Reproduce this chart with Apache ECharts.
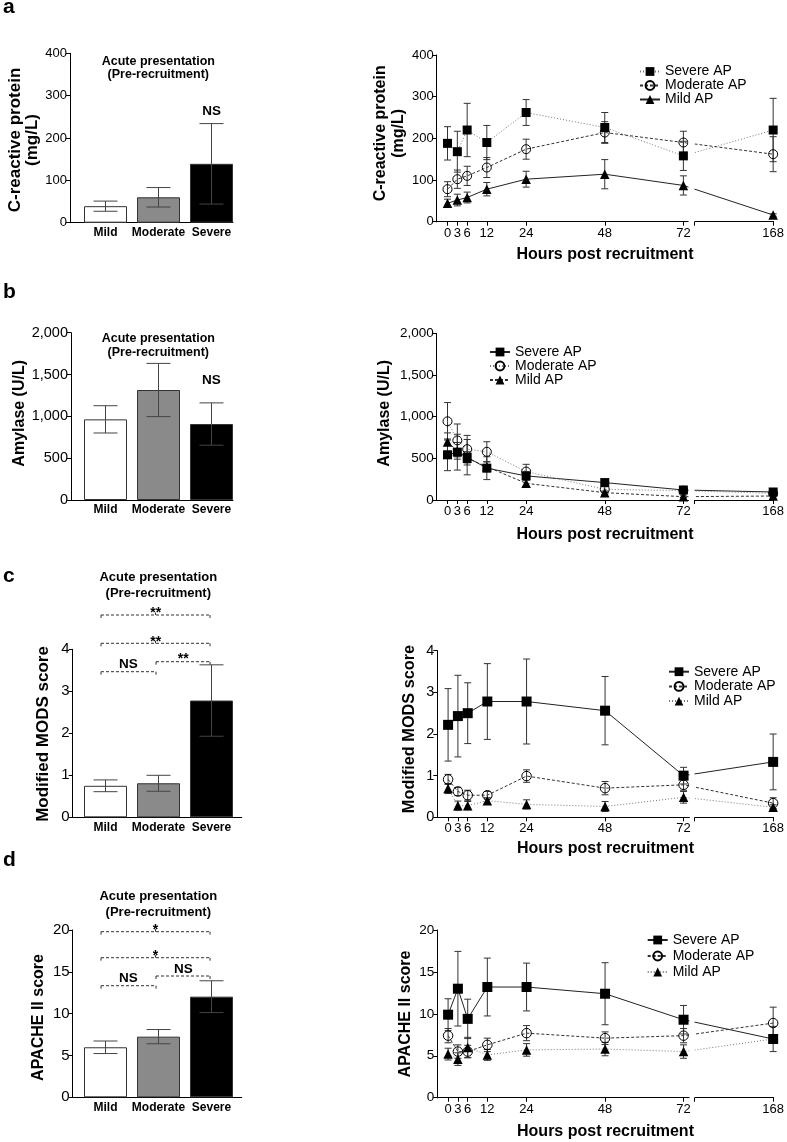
<!DOCTYPE html>
<html><head><meta charset="utf-8">
<script src="https://cdn.jsdelivr.net/npm/echarts@6/dist/echarts.min.js"></script>
<style>html,body{margin:0;padding:0;background:#fff}#c{width:787px;height:1142px}</style>
</head><body><div id="c"></div>
<script>
// ---------------- DATA ----------------
const groups = ['Mild', 'Moderate', 'Severe'];
const hours = [0, 3, 6, 12, 24, 48, 72, 168];
const hourTicks = [0, 3, 6, 12, 24, 48, 72, 168];
const apNames = ['Severe AP', 'Moderate AP', 'Mild AP'];

// a: C-reactive protein (mg/L)
const crpBarMean = [39, 60, 139];
const crpBarSem = [12, 23, 95];
const crpSevereMean = [188, 168, 220, 190, 262, 226, 158, 220];
const crpSevereSem = [40, 49, 64, 41, 31, 36, 35, 76];
const crpModerateMean = [78, 102, 110, 130, 174, 214, 190, 162];
const crpModerateSem = [18, 22, 23, 24, 24, 26, 27, 42];
const crpMildMean = [44, 52, 58, 78, 102, 114, 87, 16];
const crpMildSem = [10, 14, 13, 16, 19, 35, 23, 3];

// b: Amylase (U/L)
const amyBarMean = [964, 1315, 908];
const amyBarSem = [163, 318, 253];
const amySevereMean = [542, 574, 514, 382, 289, 209, 120, 96];
const amySevereSem = [190, 215, 212, 137, 50, 40, 20, 15];
const amyModerateMean = [944, 715, 610, 578, 341, 128, 112, 80];
const amyModerateSem = [225, 197, 165, 121, 87, 32, 15, 12];
const amyMildMean = [695, 590, 500, 400, 200, 88, 40, 48];
const amyMildSem = [110, 100, 80, 60, 40, 20, 10, 10];

// c: Modified MODS score
const modsBarMean = [0.75, 0.81, 2.78];
const modsBarSem = [0.14, 0.19, 0.85];
const modsSevereMean = [2.22, 2.43, 2.50, 2.78, 2.78, 2.56, 1.00, 1.33];
const modsSevereSem = [0.87, 0.98, 0.73, 0.91, 1.02, 0.82, 0.20, 0.67];
const modsModerateMean = [0.91, 0.62, 0.53, 0.53, 0.99, 0.70, 0.78, 0.34];
const modsModerateSem = [0.12, 0.10, 0.12, 0.09, 0.15, 0.16, 0.13, 0.13];
const modsMildMean = [0.69, 0.28, 0.28, 0.40, 0.31, 0.26, 0.48, 0.24];
const modsMildSem = [0.12, 0.11, 0.10, 0.07, 0.11, 0.12, 0.14, 0.06];

// d: APACHE II score
const apBarMean = [5.98, 7.25, 12.03];
const apBarSem = [0.75, 0.85, 1.9];
const apSevereMean = [9.9, 13.0, 9.4, 13.2, 13.2, 12.4, 9.3, 7.0];
const apSevereSem = [1.9, 4.45, 2.35, 3.45, 2.85, 3.7, 1.7, 1.5];
const apModerateMean = [7.4, 5.5, 5.5, 6.3, 7.7, 7.1, 7.4, 8.9];
const apModerateSem = [0.85, 0.8, 0.75, 0.8, 0.9, 0.75, 0.85, 1.9];
const apMildMean = [5.2, 4.6, 6.0, 5.1, 5.7, 5.8, 5.5, 7.0];
const apMildSem = [0.7, 0.75, 1.2, 0.65, 0.75, 0.8, 0.8, 0.5];

// ---------------- STYLE / LAYOUT ----------------
const FF = '"Liberation Sans", Arial, Helvetica, sans-serif';
const barFill = ['#ffffff', '#8a8a8a', '#000000'];
const LS = {
  solid: { type: 'solid', color: '#222', width: 1 },
  dashed: { type: [3, 2], color: '#333', width: 1 },
  dotted: { type: [1, 2], color: '#777', width: 1 }
};
const X_MIN = -3.3, X_MAX = 168;
const BREAK = { start: 73.6, end: 143.8, gap: 1.6 };

const panels = [
  { key: 'a',
    bar: { mean: crpBarMean, sem: crpBarSem, grid: { left: 70, top: 53.3, width: 163, height: 169.4 }, max: 400, interval: 100, fs: 13 },
    line: { grid: { left: 436.7, top: 55, width: 336.6, height: 166.7 }, max: 400, interval: 100, fs: 13,
      series: [[crpSevereMean, crpSevereSem, 'rect', 9, LS.dotted], [crpModerateMean, crpModerateSem, 'circle', 9, LS.dashed], [crpMildMean, crpMildSem, 'triangle', 9.5, LS.solid]],
      legend: { left: 639, top: 64.5, lh: 13, gap: 0 } } },
  { key: 'b',
    bar: { mean: amyBarMean, sem: amyBarSem, grid: { left: 71, top: 332.7, width: 162, height: 167.3 }, max: 2000, interval: 500, fs: 14.5, comma: true },
    line: { grid: { left: 436.7, top: 333.3, width: 336.6, height: 166.7 }, max: 2000, interval: 500, fs: 13.5, comma: true,
      series: [[amySevereMean, amySevereSem, 'rect', 9, LS.solid], [amyModerateMean, amyModerateSem, 'circle', 9, LS.dotted], [amyMildMean, amyMildSem, 'triangle', 9.5, LS.dashed]],
      legend: { left: 489, top: 345, lh: 14, gap: 0 } } },
  { key: 'c',
    bar: { mean: modsBarMean, sem: modsBarSem, grid: { left: 72.7, top: 649.3, width: 169, height: 168 }, max: 4, interval: 1, fs: 15 },
    line: { grid: { left: 437.3, top: 650.7, width: 336, height: 166.6 }, max: 4, interval: 1, fs: 14.5,
      series: [[modsSevereMean, modsSevereSem, 'rect', 10, LS.solid], [modsModerateMean, modsModerateSem, 'circle', 9.5, LS.dashed], [modsMildMean, modsMildSem, 'triangle', 9.5, LS.dotted]],
      legend: { left: 668, top: 664.7, lh: 14, gap: 0.7 } } },
  { key: 'd',
    bar: { mean: apBarMean, sem: apBarSem, grid: { left: 72.7, top: 930, width: 169, height: 167.3 }, max: 20, interval: 5, fs: 15 },
    line: { grid: { left: 437.3, top: 930, width: 336, height: 167.7 }, max: 20, interval: 5, fs: 13.5,
      series: [[apSevereMean, apSevereSem, 'rect', 10, LS.solid], [apModerateMean, apModerateSem, 'circle', 9.5, LS.dashed], [apMildMean, apMildSem, 'triangle', 9.5, LS.dotted]],
      legend: { left: 646.7, top: 933, lh: 14, gap: 2 } } }
];

// ---------------- BUILD ----------------
function errRender(capHalf, color) {
  return function (params, api) {
    const x = api.value(0), lo = api.value(1), hi = api.value(2);
    const a = api.coord([x, lo]), b = api.coord([x, hi]);
    const st = { stroke: color, lineWidth: 1, fill: null };
    return { type: 'group', children: [
      { type: 'line', shape: { x1: a[0], y1: a[1], x2: b[0], y2: b[1] }, style: st },
      { type: 'line', shape: { x1: b[0] - capHalf, y1: b[1], x2: b[0] + capHalf, y2: b[1] }, style: st },
      { type: 'line', shape: { x1: a[0] - capHalf, y1: a[1], x2: a[0] + capHalf, y2: a[1] }, style: st }
    ] };
  };
}
function yAxisDef(gi, max, interval, fs, comma) {
  return { type: 'value', gridIndex: gi, min: 0, max: max, interval: interval, position: 'left',
    axisLine: { show: true, onZero: false, lineStyle: { color: '#000', width: 1 } },
    axisTick: { show: true, length: 4, lineStyle: { color: '#000' } },
    axisLabel: { fontSize: fs, fontFamily: FF, color: '#000', margin: 3,
      formatter: comma ? (v => v.toLocaleString('en-US')) : (v => String(v)) },
    splitLine: { show: false } };
}
const grid = [], xAxis = [], yAxis = [], series = [], legend = [];
panels.forEach((p, pi) => {
  // bar chart
  const gb = grid.length;
  grid.push(Object.assign({ containLabel: false }, p.bar.grid));
  const bmin = (p.bar.grid.left - 105.5) / 53, bmax = (p.bar.grid.left + p.bar.grid.width - 105.5) / 53;
  const xb = xAxis.length;
  xAxis.push({ type: 'value', gridIndex: gb, min: bmin, max: bmax,
    axisLine: { show: true, onZero: false, lineStyle: { color: '#000', width: 1 } },
    axisTick: { show: false },
    axisLabel: { customValues: [0, 1, 2], formatter: v => groups[Math.round(v)], fontWeight: 'bold', fontSize: 12, fontFamily: FF, color: '#000', margin: 4 },
    splitLine: { show: false } });
  const yb = yAxis.length;
  yAxis.push(yAxisDef(gb, p.bar.max, p.bar.interval, p.bar.fs, p.bar.comma));
  series.push({ type: 'bar', xAxisIndex: xb, yAxisIndex: yb, barWidth: 43, z: 1, silent: true,
    itemStyle: { borderColor: '#333', borderWidth: 1 },
    data: groups.map((g, i) => ({ value: [i, p.bar.mean[i]], itemStyle: { color: barFill[i] } })) });
  series.push({ type: 'custom', xAxisIndex: xb, yAxisIndex: yb, z: 3, silent: true,
    renderItem: errRender(12, '#444'), encode: { x: 0, y: [1, 2] },
    data: groups.map((g, i) => [i, p.bar.mean[i] - p.bar.sem[i], p.bar.mean[i] + p.bar.sem[i]]) });

  // time-course chart with broken hour axis
  const gl = grid.length;
  grid.push(Object.assign({ containLabel: false }, p.line.grid));
  const xl = xAxis.length;
  xAxis.push({ type: 'value', gridIndex: gl, min: X_MIN, max: X_MAX,
    breaks: [BREAK],
    breakArea: { show: true, itemStyle: { color: '#fff', borderColor: '#fff', borderWidth: 0, opacity: 1 }, zigzagAmplitude: 0, zigzagZ: 3, expandOnClick: false },
    axisLine: { show: true, onZero: false, lineStyle: { color: '#000', width: 1 } },
    axisTick: { show: true, length: 4, customValues: hourTicks.concat([144]), lineStyle: { color: '#000' } },
    axisLabel: { customValues: hourTicks, fontSize: 13, fontFamily: FF, color: '#000', margin: 5, hideOverlap: false },
    splitLine: { show: false } });
  const yl = yAxis.length;
  yAxis.push(yAxisDef(gl, p.line.max, p.line.interval, p.line.fs, p.line.comma));
  const names = [];
  p.line.series.forEach((s, si) => {
    const [mean, sem, sym, size, ls] = s;
    const nm = apNames[si] + '|' + p.key;
    names.push(nm);
    const isCircle = sym === 'circle';
    series.push({ type: 'custom', xAxisIndex: xl, yAxisIndex: yl, z: 1, silent: true,
      renderItem: errRender(3.5, '#333'), encode: { x: 0, y: [1, 2] },
      data: hours.map((h, i) => [h, mean[i] - sem[i], mean[i] + sem[i]]) });
    series.push({ name: nm, type: 'line', xAxisIndex: xl, yAxisIndex: yl, z: 2, silent: true,
      symbol: sym, symbolSize: size, showSymbol: true,
      lineStyle: ls,
      itemStyle: isCircle ? { color: 'rgba(255,255,255,0)', borderColor: '#000', borderWidth: 1 } : { color: '#000', borderWidth: 0 },
      data: hours.map((h, i) => [h, mean[i]]) });
  });
  legend.push({ data: names, orient: 'vertical', left: p.line.legend.left, top: p.line.legend.top, z: 10,
    padding: 0, itemWidth: 20, itemHeight: 11, itemGap: p.line.legend.gap, selectedMode: false,
    formatter: n => n.split('|')[0],
    textStyle: { fontSize: 14, fontFamily: FF, color: '#000', lineHeight: p.line.legend.lh } });
});

// ---------------- TEXT / ANNOTATIONS ----------------
const G = [];
function txt(x, y, text, fs, opt) {
  opt = opt || {};
  G.push({ type: 'text', x: x, y: y, rotation: opt.rot || 0, silent: true,
    style: { text: text, fontSize: fs, fontWeight: opt.w || 'bold', fontFamily: FF, fill: '#000',
      align: opt.align || 'center', textAlign: opt.align || 'center', verticalAlign: 'middle', textVerticalAlign: 'middle',
      lineHeight: opt.lh || fs * 1.1 } });
}
function bracket(x1, x2, y, centerTick) {
  const st = { stroke: '#333', lineWidth: 1, lineDash: [3, 2] };
  G.push({ type: 'line', silent: true, shape: { x1: x1, y1: y, x2: x2, y2: y }, style: st });
  G.push({ type: 'line', silent: true, shape: { x1: x1, y1: y, x2: x1, y2: y + 3 }, style: { stroke: '#333', lineWidth: 1 } });
  G.push({ type: 'line', silent: true, shape: { x1: x2, y1: y, x2: x2, y2: y + 3 }, style: { stroke: '#333', lineWidth: 1 } });
  if (centerTick) G.push({ type: 'line', silent: true, shape: { x1: (x1 + x2) / 2, y1: y, x2: (x1 + x2) / 2, y2: y - 2.5 }, style: { stroke: '#333', lineWidth: 1 } });
}
// left axis line of each time-course panel, drawn on its own top layer at the grid's left edge
panels.forEach(p => {
  const g = p.line.grid;
  G.push({ type: 'rect', silent: true, z: 100, zlevel: 5,
    shape: { x: Math.floor(g.left), y: g.top, width: 1, height: g.height + 0.5 },
    style: { fill: '#000' } });
});
const R = Math.PI / 2;
// panel letters
txt(3, 7.6, 'a', 21, { align: 'left' });
txt(3, 292.6, 'b', 21, { align: 'left' });
txt(3, 576, 'c', 21, { align: 'left' });
txt(3, 860, 'd', 21, { align: 'left' });
// bar titles
const acute = 'Acute presentation\n(Pre-recruitment)';
txt(158.3, 68.3, acute, 12.5, { lh: 13.3 });
txt(158.3, 345.4, acute, 12.5, { lh: 14.2 });
txt(158.3, 585.5, acute, 13, { lh: 16.6 });
txt(158.3, 904.4, acute, 13, { lh: 15.5 });
// y axis titles
txt(23.5, 140, 'C-reactive protein\n(mg/L)', 17, { rot: R, lh: 17 });
txt(389.5, 133.3, 'C-reactive protein\n(mg/L)', 16, { rot: R, lh: 18 });
txt(19.5, 413.3, 'Amylase (U/L)', 16, { rot: R });
txt(385, 413.3, 'Amylase (U/L)', 16, { rot: R });
txt(43.7, 734, 'Modified MODS score', 17, { rot: R });
txt(410, 729, 'Modified MODS score', 16.3, { rot: R });
txt(38.3, 1017.5, 'APACHE II score', 16, { rot: R });
txt(405.8, 1014, 'APACHE II score', 16, { rot: R });
// x axis titles
txt(605, 255, 'Hours post recruitment', 16);
txt(605, 534.5, 'Hours post recruitment', 16);
txt(605.5, 849, 'Hours post recruitment', 16);
txt(605.5, 1131.5, 'Hours post recruitment', 16);
// NS labels
txt(211.7, 111.7, 'NS', 13.5);
txt(211.3, 380.3, 'NS', 13.5);
// c brackets
bracket(101, 210, 615, true); txt(155.7, 613.3, '**', 14);
bracket(101, 210, 643.3, true); txt(155.7, 641.8, '**', 14);
bracket(101, 156, 671.7, false); txt(128.5, 663.8, 'NS', 13.5);
bracket(156, 210, 661.7, false); txt(183.3, 659.5, '**', 14);
// d brackets
bracket(101, 210, 931.7, true); txt(155.5, 929.8, '*', 14);
bracket(101, 210, 957.7, true); txt(155.5, 955.8, '*', 14);
bracket(101, 156, 985.7, false); txt(128.5, 978.7, 'NS', 13.5);
bracket(156, 210, 976, false); txt(183.3, 969.2, 'NS', 13.5);

const chart = echarts.init(document.getElementById('c'), null, { renderer: 'canvas', width: 787, height: 1142 });
chart.setOption({
  backgroundColor: '#fff', animation: false,
  textStyle: { fontFamily: FF },
  grid: grid, xAxis: xAxis, yAxis: yAxis, series: series, legend: legend,
  graphic: { elements: G }
});
</script></body></html>
